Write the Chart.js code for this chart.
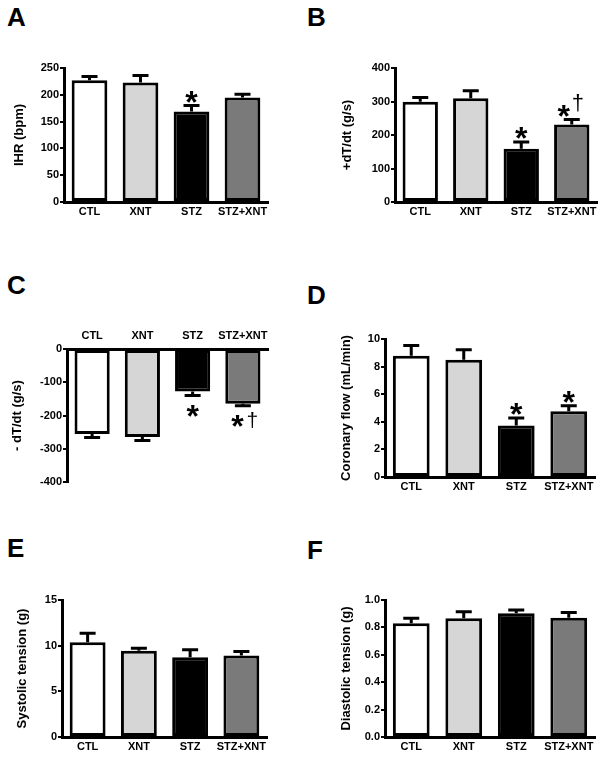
<!DOCTYPE html>
<html>
<head>
<meta charset="utf-8">
<script src="https://cdn.jsdelivr.net/npm/chart.js@4.4.0/dist/chart.umd.min.js"></script>
<style>
  body { margin: 0; background: #fff; width: 601px; height: 757px; position: relative; overflow: hidden; }
  canvas { position: absolute; }
  .letter { position: absolute; font: bold 26px "Liberation Sans", Arial, sans-serif; line-height: 1; color: #000; }
</style>
</head>
<body>
<div class="letter" style="left:7px;top:4px">A</div>
<div class="letter" style="left:307px;top:4px">B</div>
<div class="letter" style="left:7px;top:272px">C</div>
<div class="letter" style="left:307px;top:282px">D</div>
<div class="letter" style="left:7px;top:535px">E</div>
<div class="letter" style="left:307px;top:537px">F</div>

<canvas id="chartA" width="300" height="250" style="left:0;top:0"></canvas>
<canvas id="chartB" width="301" height="250" style="left:300px;top:0"></canvas>
<canvas id="chartC" width="300" height="250" style="left:0;top:250px"></canvas>
<canvas id="chartD" width="301" height="250" style="left:300px;top:250px"></canvas>
<canvas id="chartE" width="300" height="257" style="left:0;top:500px"></canvas>
<canvas id="chartF" width="301" height="257" style="left:300px;top:500px"></canvas>

<script>
// --- дані ---
const groups = ['CTL', 'XNT', 'STZ', 'STZ+XNT'];
const fills = ['#ffffff', '#d6d6d6', '#000000', '#7a7a7a'];

const ihrMean = [227, 223, 169, 195];
const ihrErr = [7, 13, 11, 6];
const ihrMarks = ['', '', '*', ''];

const dpMean = [299, 310, 159, 231];
const dpErr = [13, 22, 20, 15];
const dpMarks = ['', '', '*', '*†'];

const dnMean = [-256, -265, -128, -165];
const dnErr = [10, 10, 12, 6];
const dnMarks = ['', '', '*', '*†'];

const cfMean = [8.79, 8.50, 3.74, 4.76];
const cfErr = [0.73, 0.73, 0.54, 0.41];
const cfMarks = ['', '', '*', '*'];

const stMean = [10.37, 9.43, 8.74, 8.92];
const stErr = [0.99, 0.29, 0.80, 0.44];

const dtMean = [0.83, 0.867, 0.903, 0.871];
const dtErr = [0.037, 0.048, 0.024, 0.037];

const FONT = '"Liberation Sans", Arial, sans-serif';

// error bars + significance marks
const errorBars = {
  id: 'errorBars',
  afterDatasetsDraw(chart, args, opts) {
    const ctx = chart.ctx;
    const y = chart.scales.y;
    const meta = chart.getDatasetMeta(0);
    const values = chart.data.datasets[0].data;
    ctx.save();
    ctx.strokeStyle = '#000';
    ctx.fillStyle = '#000';
    ctx.lineWidth = 3;
    meta.data.forEach((bar, i) => {
      const v = values[i];
      const e = opts.err[i];
      const down = v < 0;
      const yTip = y.getPixelForValue(down ? v - e : v + e);
      ctx.beginPath();
      ctx.moveTo(bar.x, bar.y);
      ctx.lineTo(bar.x, yTip);
      ctx.moveTo(bar.x - 8, yTip);
      ctx.lineTo(bar.x + 8, yTip);
      ctx.stroke();

      const m = opts.marks ? opts.marks[i] : '';
      if (!m) return;
      const cy = down ? yTip + 13 : yTip - 11;
      const hasDag = m.indexOf('†') >= 0;
      const sx = hasDag ? bar.x + opts.dag.sx : bar.x;
      ctx.font = 'bold 32px ' + FONT;
      ctx.textAlign = 'center';
      ctx.textBaseline = 'alphabetic';
      ctx.fillText('*', sx, cy + 18);
      if (hasDag) {
        const s = opts.dag.size;
        ctx.font = s + 'px ' + FONT;
        ctx.fillText('†', bar.x + opts.dag.dx, cy + opts.dag.dy + s * 0.285);
      }
    });
    ctx.restore();
  }
};

function panel(id, c) {
  new Chart(document.getElementById(id), {
    type: 'bar',
    data: {
      labels: groups,
      datasets: [{
        data: c.mean,
        backgroundColor: fills,
        borderColor: '#000',
        borderWidth: 3,
        borderSkipped: false,
        barPercentage: 0.7,
        categoryPercentage: 1
      }]
    },
    options: {
      responsive: false,
      animation: false,
      layout: { padding: c.pad },
      plugins: {
        legend: { display: false },
        tooltip: { enabled: false },
        errorBars: { err: c.err, marks: c.marks, dag: c.dag }
      },
      scales: {
        x: {
          position: c.xPos || 'bottom',
          grid: { display: false, drawTicks: false },
          border: { color: '#000', width: 3 },
          ticks: { color: '#000', font: { family: FONT, size: 11, weight: 'bold' }, padding: c.xPad || 3, maxRotation: 0, autoSkip: false },
          afterFit: s => { s.height = 20; }
        },
        y: {
          min: c.min, max: c.max,
          grid: { drawOnChartArea: false, color: '#000', lineWidth: 2, tickLength: 4 },
          border: { color: '#000', width: 3 },
          ticks: {
            stepSize: c.step, color: '#000', padding: 1,
            font: { family: FONT, size: 11, weight: 'bold' },
            callback: c.fmt || (v => v)
          },
          title: {
            display: true, text: c.title, color: '#000',
            font: { family: FONT, size: 13, weight: 'bold' },
            padding: { top: c.tpad, bottom: 0 }
          },
          afterFit: s => { s.width = c.yw; }
        }
      }
    },
    plugins: [errorBars]
  });
}

panel('chartA', { mean: ihrMean, err: ihrErr, marks: ihrMarks, min: 0, max: 250, step: 50,
  title: 'IHR (bpm)', pad: { left: 0, top: 68, right: 32, bottom: 28 }, yw: 64, tpad: 12 });

panel('chartB', { mean: dpMean, err: dpErr, marks: dpMarks, min: 0, max: 400, step: 100,
  title: '+dT/dt (g/s)', pad: { left: 0, top: 68, right: 4, bottom: 28 }, yw: 95, tpad: 40,
  dag: { sx: -8, dx: 6, dy: -4.5, size: 22 } });

panel('chartC', { mean: dnMean, err: dnErr, marks: dnMarks, min: -400, max: 0, step: 100,
  title: '- dT/dt (g/s)', xPos: 'top', xPad: 6, pad: { left: 0, top: 79, right: 32, bottom: 18 }, yw: 67, tpad: 10,
  dag: { sx: -5.5, dx: 9.5, dy: 2.5, size: 21 } });

panel('chartD', { mean: cfMean, err: cfErr, marks: cfMarks, min: 0, max: 10, step: 2,
  title: 'Coronary flow (mL/min)', pad: { left: 0, top: 89, right: 6, bottom: 3 }, yw: 85, tpad: 39 });

panel('chartE', { mean: stMean, err: stErr, min: 0, max: 15, step: 5,
  title: 'Systolic tension (g)', pad: { left: 0, top: 100, right: 33, bottom: 0 }, yw: 62, tpad: 15 });

panel('chartF', { mean: dtMean, err: dtErr, min: 0, max: 1, step: 0.2,
  title: 'Diastolic tension (g)', pad: { left: 0, top: 100, right: 6, bottom: 0 }, yw: 85, tpad: 39,
  fmt: v => Number(v).toFixed(1) });
</script>
</body>
</html>
